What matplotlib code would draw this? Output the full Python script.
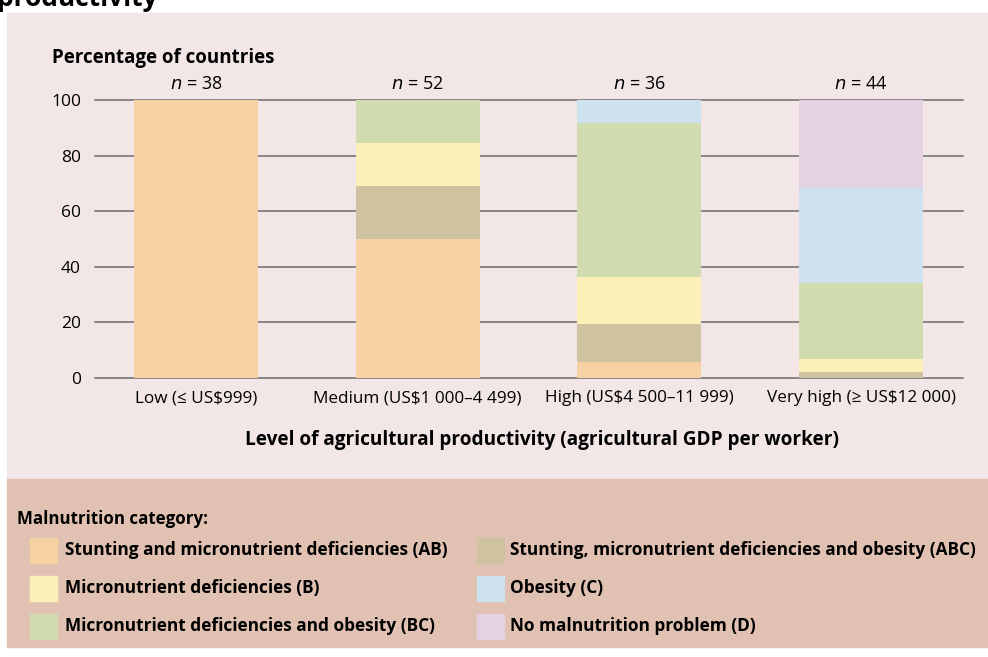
import numpy as np
import matplotlib
matplotlib.use("Agg")
import matplotlib.pyplot as plt
from matplotlib.patches import Rectangle

# data (percent of countries per productivity level)
levels = ["Low (\u2264 US$999)", "Medium (US$1 000\u20134 499)",
          "High (US$4 500\u201311 999)", "Very high (\u2265 US$12 000)"]
n_countries = [38, 52, 36, 44]
AB = [100.0, 50.0, 5.6, 0.0]
ABC = [0.0, 19.2, 13.9, 2.3]
B = [0.0, 15.4, 16.7, 4.5]
BC = [0.0, 15.4, 55.5, 27.3]
C = [0.0, 0.0, 8.3, 34.1]
D = [0.0, 0.0, 0.0, 31.8]
yticks = [0, 20, 40, 60, 80, 100]

cat_names = ["Stunting and micronutrient deficiencies (AB)",
             "Stunting, micronutrient deficiencies and obesity (ABC)",
             "Micronutrient deficiencies (B)",
             "Obesity (C)",
             "Micronutrient deficiencies and obesity (BC)",
             "No malnutrition problem (D)"]

col = {"AB": "#f6d1a3", "ABC": "#cfc2a0", "B": "#fcefb7",
       "BC": "#d1dbb0", "C": "#cee1ef", "D": "#e4d1e1"}

W, H = 988, 657
fig = plt.figure(figsize=(W / 100, H / 100), dpi=100)
fig.patch.set_facecolor("white")

def fx(x):
    return x / W

def fy(y):
    return 1 - y / H

main_font = ["Open Sans", "DejaVu Sans"]

# background panels
fig.add_artist(Rectangle((fx(7), fy(479)), fx(990 - 7), 466 / H,
                         transform=fig.transFigure, color="#f2e6e6", zorder=0))
fig.add_artist(Rectangle((fx(7), fy(647)), fx(990 - 7), 168 / H,
                         transform=fig.transFigure, color="#e1c1b2", zorder=0))

# cut-off title (the reference shows only its lower part)
fig.text(fx(-3), fy(6), "productivity", fontsize=19, fontweight="bold",
         family=main_font, ha="left", va="baseline")

ax = fig.add_axes([fx(95), fy(378), fx(963 - 95), 278 / H])
ax.set_facecolor("none")
for s in ax.spines.values():
    s.set_visible(False)

x = np.arange(len(levels))
for yv in yticks:
    ax.axhline(yv, color="#6b6b6b", lw=1.1, zorder=0, clip_on=False)

bottom = np.zeros(len(levels))
for key, vals in [("AB", AB), ("ABC", ABC), ("B", B), ("BC", BC), ("C", C), ("D", D)]:
    ax.bar(x, vals, width=0.56, bottom=bottom, color=col[key], zorder=2)
    bottom += np.array(vals)

ax.set_xlim(-0.456, 3.46)
ax.set_ylim(0, 100)
ax.set_yticks(yticks)
ax.set_yticklabels([str(v) for v in yticks], fontsize=12.5, family=main_font)
ax.set_xticks(x)
ax.set_xticklabels(levels, fontsize=12.3, family=main_font)
ax.tick_params(length=0)
ax.tick_params(axis="y", pad=10)
ax.tick_params(axis="x", pad=9)

for xi, n in zip(x, n_countries):
    ax.text(xi, 102.5, "$n$ = %d" % n, ha="center", va="bottom",
            fontsize=13, family=main_font)

fig.text(fx(52), fy(58), "Percentage of countries", fontsize=13.5,
         fontweight="bold", family=main_font, ha="left", va="center")
fig.text(fx(542), fy(440),
         "Level of agricultural productivity (agricultural GDP per worker)",
         fontsize=13.7, fontweight="bold", family=main_font,
         ha="center", va="center")

# legend
fig.text(fx(17), fy(519), "Malnutrition category:", fontsize=12.2,
         fontweight="bold", family=main_font, ha="left", va="center")
rows = [550, 588, 626]
cols = [(30, 65), (477, 510)]
order = [("AB", 0, 0), ("ABC", 1, 0), ("B", 0, 1), ("C", 1, 1), ("BC", 0, 2), ("D", 1, 2)]
for (key, c, r), name in zip(order, cat_names):
    sx, tx = cols[c]
    yc = rows[r]
    fig.add_artist(Rectangle((fx(sx), fy(yc + 12.5)), fx(27), 25 / H,
                             transform=fig.transFigure, color=col[key], zorder=1))
    fig.text(fx(tx), fy(yc), name, fontsize=12.4, fontweight="bold",
             family=main_font, ha="left", va="center")

fig.savefig("out.png", dpi=100)
